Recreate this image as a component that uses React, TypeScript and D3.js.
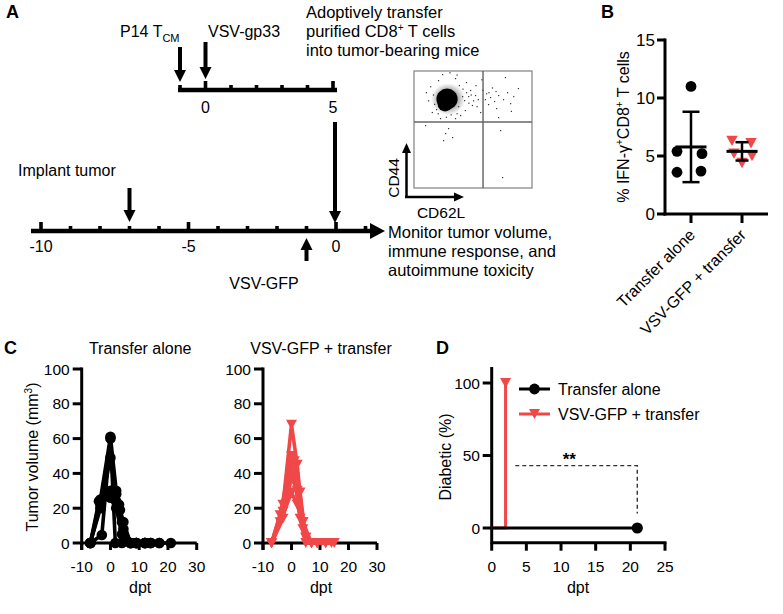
import React from "react";
import * as d3 from "d3";

const W = 783;
const H = 614;
const RED = "#F04848";
const FONT = "'Liberation Sans', Arial, Helvetica, sans-serif";

// ---------- Panel A data ----------
const topTimelineDays = [-1, 0, 1, 2, 3, 4, 5];
const topTimelineLabels = [0, 5];
const bottomTimelineDays = [-10, -9, -8, -7, -6, -5, -4, -3, -2, -1, 0, 1];
const bottomTimelineLabels = [-10, -5, 0];
const p14Day = -1;
const vsvGp33Day = 0;
const transferDayTop = 5;
const implantDay = -7;
const vsvGfpDay = -1;
const transferLines = ["Adoptively transfer", "purified CD8", "into tumor-bearing mice"];
const monitorLines = ["Monitor tumor volume,", "immune response, and", "autoimmune toxicity"];

// Flow plot (CD62L on x, CD44 on y, 0-100 display units)
const flowGateX = 58.5;
const flowGateY = 56.4;
const flowCore = { cd62l: 28, cd44: 76, spreadX: 9, spreadY: 9 };
const flowEvents: [number, number][] = [
  [23.7, 97.4], [34.7, 94], [44, 90.6], [47.5, 83.8], [51.7, 79.5], [54, 76],
  [61, 81], [64.4, 77.8], [67.8, 74.4], [71.2, 79.5], [75.4, 76], [78.8, 82],
  [81.4, 72.6], [69.5, 68.4], [62.7, 71.8], [84, 78.6], [77, 94.9], [88, 85.5],
  [49, 71], [43, 66.7], [39, 62.4], [34.7, 59.8], [22, 59.8], [15, 65],
  [11.9, 75], [13.6, 87], [20.3, 92.3], [28.8, 51.3], [26.3, 47], [32.2, 43.6],
  [24.6, 41], [72.9, 49.6], [74.6, 9.4], [71.2, 60.7], [9.3, 53.8], [56, 65],
  [40.7, 78.6], [42.4, 75.2], [45.8, 78.6], [37.3, 70], [18.6, 67.5], [10, 82],
  [58, 84], [66, 86], [52, 88], [36, 97], [30, 99], [82, 66], [57, 93],
  [44, 82], [46, 73], [48, 80], [50, 75], [41, 85], [38, 88], [16, 80], [17, 72],
  [20, 64], [27, 61], [31, 63], [36, 64], [53, 70], [60, 76], [63, 82], [69, 83],
];

// ---------- Panel B data ----------
const bCategories = ["Transfer alone", "VSV-GFP + transfer"];
const bTransferAlone = [11.0, 5.4, 5.2, 3.6, 3.7];
const bVsvTransfer = [6.3, 6.1, 5.2, 5.0, 4.4];
const bTransferAloneJitter = [0, -14, 11, -14, 10];
const bVsvTransferJitter = [-10, 9, -8, 10, 0];
const bTicksY = [0, 5, 10, 15];

// ---------- Panel C data ----------
const cTicksY = [0, 20, 40, 60, 80, 100];
const cTicksX = [-10, 0, 10, 20, 30];
const transferAloneMice: [number, number][][] = [
  [[-7, 0], [-3.5, 25], [0, 61], [2, 30], [3, 22], [4, 12], [7, 0], [9, 0], [12, 0], [14, 0], [17, 0], [21, 0]],
  [[-7, 0], [-3, 4.6], [0, 60], [1.7, 0], [4, 0], [7, 0], [9, 0], [12, 0], [14, 0]],
  [[-7, 0], [-3.5, 20], [0, 49], [2, 24], [3.3, 19], [4.5, 8], [7, 0], [9, 0], [12, 0]],
  [[-7, 0], [-3.5, 22], [0, 30], [2, 28], [4.5, 12], [7, 0], [9, 0], [12, 0], [14, 0], [17, 0]],
  [[-7, 0], [-4, 24], [0, 26], [2, 20], [4, 5], [7, 0], [9, 0], [12, 0]],
];
const vsvTransferMice: [number, number][][] = [
  [[-7, 0], [-3, 22], [0, 68], [2, 45], [4, 12], [7, 0], [9, 0], [12, 0], [14, 0]],
  [[-7, 0], [-4, 16], [0, 50], [1, 47], [3, 29], [5, 3], [7, 0], [9, 0], [12, 0]],
  [[-7, 0], [-3, 14], [0, 38], [2, 30], [4, 8], [7, 0], [9, 0]],
  [[-7, 0], [-4, 12], [0, 29], [2, 22], [4, 12], [5, 3], [7, 0], [9, 0], [12, 0], [15, 0]],
  [[-7, 0], [-3, 18], [0, 45], [1, 38], [3, 14], [5, 0], [7, 0], [9, 0]],
];

// ---------- Panel D data ----------
const dTicksY = [0, 50, 100];
const dTicksX = [0, 5, 10, 15, 20, 25];
const dTransferAlone: [number, number][] = [[0, 0], [21, 0]];
const dVsvTransfer: [number, number][] = [[0, 0], [2, 0], [2, 100]];
const dSigBracket: [number, number][] = [[3.4, 43], [21, 43], [21, 10]];
const dSigLabel = { day: 11.2, pct: 49, text: "**" };
const dLegend = ["Transfer alone", "VSV-GFP + transfer"];

// ---------- helpers ----------
function triDown(x: number, y: number, w: number) {
  const h = w * 0.9;
  return `M${x - w / 2},${y - h / 2}L${x + w / 2},${y - h / 2}L${x},${y + h / 2}Z`;
}

function VArrow({ x, y1, y2, w = 4, head = 12, hw = 12 }: any) {
  const dir = Math.sign(y2 - y1);
  const base = y2 - dir * head;
  return (
    <g>
      <line x1={x} x2={x} y1={y1} y2={base + dir * 1} stroke="#000" strokeWidth={w} />
      <polygon points={`${x - hw / 2},${base} ${x + hw / 2},${base} ${x},${y2}`} fill="#000" />
    </g>
  );
}

function PanelA() {
  const xTop = d3.scaleLinear().domain([-1, 5]).range([180, 333]);
  const xBot = d3.scaleLinear().domain([-10, 0]).range([41, 336]);
  const yTop = 90;
  const yBot = 231;
  const xf = d3.scaleLinear().domain([0, 100]).range([414, 532]);
  const yf = d3.scaleLinear().domain([0, 100]).range([188, 71]);
  const crx = xf(flowCore.spreadX) - xf(0);
  const cry = yf(0) - yf(flowCore.spreadY);
  return (
    <g>
      <text x={6} y={18} fontSize={18} fontWeight="bold" fontFamily={FONT}>A</text>
      {/* top timeline */}
      <line x1={xTop(-1) - 2} x2={xTop(5) + 4} y1={yTop} y2={yTop} stroke="#000" strokeWidth={4.5} />
      {topTimelineDays.map((d) => {
        const major = topTimelineLabels.includes(d);
        return <rect key={d} x={xTop(d) - 1.8} width={3.6} y={yTop - (major ? 9 : 5)} height={major ? 9 : 5} fill="#000" />;
      })}
      {topTimelineLabels.map((d) => (
        <text key={d} x={xTop(d)} y={113} fontSize={16} textAnchor="middle">{d}</text>
      ))}
      <VArrow x={xTop(p14Day)} y1={47} y2={82} />
      <VArrow x={xTop(vsvGp33Day)} y1={42} y2={79} />
      <text x={120} y={37} fontSize={16}>P14 T<tspan fontSize={11} dy={5}>CM</tspan></text>
      <text x={208} y={37} fontSize={16}>VSV-gp33</text>
      <text x={306} y={18} fontSize={16.5}>{transferLines[0]}</text>
      <text x={306} y={37} fontSize={16.5}>{transferLines[1]}<tspan fontSize={10} dy={-6}>+</tspan><tspan dy={6}> T cells</tspan></text>
      <text x={306} y={56} fontSize={16.5}>{transferLines[2]}</text>
      {/* transfer arrow */}
      <VArrow x={xTop(transferDayTop) + 2} y1={122} y2={223} />
      {/* bottom timeline */}
      <line x1={31} x2={372} y1={yBot} y2={yBot} stroke="#000" strokeWidth={4.5} />
      <polygon points={`370,${yBot - 8} 385,${yBot} 370,${yBot + 8}`} fill="#000" />
      {bottomTimelineDays.map((d) => {
        const major = bottomTimelineLabels.includes(d);
        return <rect key={d} x={xBot(d) - 1.8} width={3.6} y={yBot - (major ? 9 : 5)} height={major ? 9 : 5} fill="#000" />;
      })}
      {bottomTimelineLabels.map((d) => (
        <text key={d} x={xBot(d)} y={252} fontSize={16} textAnchor="middle">{d}</text>
      ))}
      <VArrow x={xBot(implantDay)} y1={188} y2={222} />
      <text x={18} y={176} fontSize={16}>Implant tumor</text>
      <VArrow x={xBot(vsvGfpDay)} y1={261} y2={238} />
      <text x={264} y={289} fontSize={16} textAnchor="middle">VSV-GFP</text>
      {monitorLines.map((t, i) => (
        <text key={i} x={388} y={238 + i * 19} fontSize={16.5}>{t}</text>
      ))}
      {/* flow plot */}
      <defs>
        <radialGradient id="halo">
          <stop offset="0%" stopColor="#000" stopOpacity={0.95} />
          <stop offset="60%" stopColor="#000" stopOpacity={0.55} />
          <stop offset="100%" stopColor="#000" stopOpacity={0} />
        </radialGradient>
      </defs>
      <ellipse cx={xf(flowCore.cd62l) + 1} cy={yf(flowCore.cd44)} rx={crx * 1.6} ry={cry * 1.5} fill="url(#halo)" opacity={0.55} />
      <ellipse cx={xf(flowCore.cd62l)} cy={yf(flowCore.cd44)} rx={crx} ry={cry} fill="#000" />
      <ellipse cx={xf(flowCore.cd62l) - 2} cy={yf(flowCore.cd44) + 5} rx={crx * 0.7} ry={cry * 0.7} fill="#000" />
      {flowEvents.map((p, i) => (
        <rect key={i} x={xf(p[0])} y={yf(p[1])} width={1.2} height={1.2} fill="#333" />
      ))}
      <rect x={xf(0)} y={yf(100)} width={xf(100) - xf(0)} height={yf(0) - yf(100)} fill="none" stroke="#8a8a8a" strokeWidth={1.3} />
      <line x1={xf(flowGateX)} x2={xf(flowGateX)} y1={yf(0)} y2={yf(100)} stroke="#555" strokeWidth={1.3} />
      <line x1={xf(0)} x2={xf(100)} y1={yf(flowGateY)} y2={yf(flowGateY)} stroke="#666" strokeWidth={1.3} />
      {/* axis arrows */}
      <line x1={406.5} x2={406.5} y1={198} y2={152} stroke="#000" strokeWidth={2.5} />
      <polygon points="402,153 406.5,143 411,153" fill="#000" />
      <line x1={405} x2={455} y1={197} y2={197} stroke="#000" strokeWidth={2.5} />
      <polygon points="454,192.5 464,197 454,201.5" fill="#000" />
      <text transform="translate(399,178) rotate(-90)" fontSize={15.5} textAnchor="middle">CD44</text>
      <text x={441} y={218} fontSize={15.5} textAnchor="middle">CD62L</text>
    </g>
  );
}

function PanelB() {
  const y = d3.scaleLinear().domain([0, 15]).range([214, 40]);
  const x = d3.scalePoint<string>().domain(bCategories).range([691, 742]);
  const axisX = 665;
  const series = [
    { vals: bTransferAlone, jit: bTransferAloneJitter, cat: bCategories[0], marker: "circle" },
    { vals: bVsvTransfer, jit: bVsvTransferJitter, cat: bCategories[1], marker: "tri" },
  ];
  return (
    <g>
      <text x={601} y={18} fontSize={18} fontWeight="bold">B</text>
      <line x1={axisX} x2={axisX} y1={y(15) - 1.5} y2={y(0) + 1.5} stroke="#000" strokeWidth={3} />
      <line x1={axisX - 1.5} x2={768} y1={y(0)} y2={y(0)} stroke="#000" strokeWidth={3} />
      {bTicksY.map((t) => (
        <g key={t}>
          <line x1={axisX - 8} x2={axisX} y1={y(t)} y2={y(t)} stroke="#000" strokeWidth={3} />
          <text x={655} y={y(t) + 6} fontSize={17} textAnchor="end">{t}</text>
        </g>
      ))}
      {bCategories.map((c) => (
        <g key={c}>
          <line x1={x(c)} x2={x(c)} y1={y(0)} y2={y(0) + 9} stroke="#000" strokeWidth={3} />
          <text transform={`translate(${(x(c) as number) + 5},${236}) rotate(-45)`} fontSize={16} textAnchor="end">{c}</text>
        </g>
      ))}
      <text transform={`translate(629,${127}) rotate(-90)`} fontSize={16} textAnchor="middle">
        % IFN-γ<tspan fontSize={10} dy={-6}>+</tspan><tspan dy={6}>CD8</tspan><tspan fontSize={10} dy={-6}>+</tspan><tspan dy={6}> T cells</tspan>
      </text>
      {series.map((s) => {
        const cx = x(s.cat) as number;
        return (
          <g key={s.cat}>
            {s.vals.map((v, i) =>
              s.marker === "circle" ? (
                <circle key={i} cx={cx + s.jit[i]} cy={y(v)} r={5.4} fill="#000" />
              ) : (
                <path key={i} d={triDown(cx + s.jit[i], y(v), 11.5)} fill={RED} />
              )
            )}
          </g>
        );
      })}
      {series.map((s) => {
        const cx = x(s.cat) as number;
        const m = d3.mean(s.vals) as number;
        const sd = d3.deviation(s.vals) as number;
        const cap = s.marker === "circle" ? 8.5 : 6.5;
        return (
          <g key={s.cat + "bar"} stroke="#000">
            <line x1={cx - 15.5} x2={cx + 15.5} y1={y(m)} y2={y(m)} strokeWidth={3} />
            <line x1={cx} x2={cx} y1={y(m + sd)} y2={y(m - sd)} strokeWidth={2.5} />
            <line x1={cx - cap} x2={cx + cap} y1={y(m + sd)} y2={y(m + sd)} strokeWidth={2.5} />
            <line x1={cx - cap} x2={cx + cap} y1={y(m - sd)} y2={y(m - sd)} strokeWidth={2.5} />
          </g>
        );
      })}
    </g>
  );
}

function PanelC({ x0, x1, title, mice, color, marker, showYLabel, letter }: any) {
  const x = d3.scaleLinear().domain([-10, 30]).range([x0, x1]);
  const y = d3.scaleLinear().domain([0, 100]).range([543, 369]);
  const line = d3.line<[number, number]>().x((d) => x(d[0])).y((d) => y(d[1]));
  const mid = (x0 + x1) / 2;
  return (
    <g>
      {letter && <text x={4} y={354} fontSize={18} fontWeight="bold">{letter}</text>}
      <text x={mid + 1} y={354} fontSize={16} textAnchor="middle">{title}</text>
      <line x1={x0} x2={x0} y1={y(100) - 1.5} y2={y(0) + 7} stroke="#000" strokeWidth={3} />
      <line x1={x0} x2={x1} y1={y(0)} y2={y(0)} stroke="#000" strokeWidth={3} />
      {cTicksY.map((t) => (
        <g key={t}>
          <line x1={x0 - 9} x2={x0} y1={y(t)} y2={y(t)} stroke="#000" strokeWidth={3} />
          <text x={x0 - 12} y={y(t) + 5.5} fontSize={15.5} textAnchor="end">{t}</text>
        </g>
      ))}
      {cTicksX.map((t) => (
        <g key={t}>
          <line x1={x(t)} x2={x(t)} y1={y(0)} y2={y(0) + 7} stroke="#000" strokeWidth={3} />
          <text x={x(t)} y={572} fontSize={15.5} textAnchor="middle">{t}</text>
        </g>
      ))}
      <text x={mid + 1} y={593} fontSize={16} textAnchor="middle">dpt</text>
      {showYLabel && (
        <text transform="translate(38,457) rotate(-90)" fontSize={16} textAnchor="middle">
          Tumor volume  (mm<tspan fontSize={10} dy={-6}>3</tspan><tspan dy={6}>)</tspan>
        </text>
      )}
      {mice.map((m: [number, number][], i: number) => (
        <g key={i}>
          <path d={line(m) as string} fill="none" stroke={color} strokeWidth={3.6} strokeLinejoin="round" />
          {m.map((p, j) =>
            marker === "circle" ? (
              <circle key={j} cx={x(p[0])} cy={y(p[1])} r={5.3} fill={color} />
            ) : (
              <path key={j} d={triDown(x(p[0]), y(p[1]), 11)} fill={color} />
            )
          )}
        </g>
      ))}
    </g>
  );
}

function PanelD() {
  const x = d3.scaleLinear().domain([0, 25]).range([491.7, 665]);
  const y = d3.scaleLinear().domain([0, 100]).range([528, 383]);
  const line = d3.line<[number, number]>().x((d) => x(d[0])).y((d) => y(d[1])).curve(d3.curveLinear);
  const axisY = 542.7;
  const last = dTransferAlone[dTransferAlone.length - 1];
  const vLast = dVsvTransfer[dVsvTransfer.length - 1];
  return (
    <g>
      <text x={436} y={354} fontSize={18} fontWeight="bold">D</text>
      <line x1={x(0)} x2={x(0)} y1={367} y2={axisY + 1.5} stroke="#000" strokeWidth={3} />
      <line x1={x(0)} x2={x(25) + 1.5} y1={axisY} y2={axisY} stroke="#000" strokeWidth={3} />
      {dTicksY.map((t) => (
        <g key={t}>
          <line x1={x(0) - 9} x2={x(0)} y1={y(t)} y2={y(t)} stroke="#000" strokeWidth={3} />
          <text x={480} y={y(t) + 5.5} fontSize={15.5} textAnchor="end">{t}</text>
        </g>
      ))}
      {dTicksX.map((t) => (
        <g key={t}>
          <line x1={x(t)} x2={x(t)} y1={axisY} y2={axisY + 8} stroke="#000" strokeWidth={3} />
          <text x={x(t)} y={572} fontSize={15.5} textAnchor="middle">{t}</text>
        </g>
      ))}
      <text x={578} y={593} fontSize={16} textAnchor="middle">dpt</text>
      <text transform="translate(451,457) rotate(-90)" fontSize={16} textAnchor="middle">Diabetic (%)</text>
      <path d={line(dVsvTransfer) as string} fill="none" stroke={RED} strokeWidth={3} />
      <path d={triDown(x(vLast[0]), y(vLast[1]), 11)} fill={RED} />
      <path d={line(dTransferAlone) as string} fill="none" stroke="#000" strokeWidth={3} />
      <circle cx={x(last[0])} cy={y(last[1])} r={5.6} fill="#000" />
      <path d={line(dSigBracket) as string} fill="none" stroke="#333" strokeWidth={1.4} strokeDasharray="4,3" />
      <text x={x(dSigLabel.day)} y={y(dSigLabel.pct) + 8} fontSize={17} fontWeight="bold" textAnchor="middle">{dSigLabel.text}</text>
      {/* legend */}
      <line x1={519} x2={550} y1={389} y2={389} stroke="#000" strokeWidth={3} />
      <circle cx={534.5} cy={389} r={5.4} fill="#000" />
      <text x={558} y={395} fontSize={16}>{dLegend[0]}</text>
      <line x1={519} x2={550} y1={414} y2={414} stroke={RED} strokeWidth={3} />
      <path d={triDown(534.5, 414, 11)} fill={RED} />
      <text x={558} y={420} fontSize={16}>{dLegend[1]}</text>
    </g>
  );
}

export default function App() {
  return (
    <svg width={W} height={H} style={{ position: "absolute", left: 0, top: 0, background: "#fff" }} fontFamily={FONT}>
      <rect width={W} height={H} fill="#fff" />
      <PanelA />
      <PanelB />
      <PanelC x0={81.7} x1={196.7} title="Transfer alone" mice={transferAloneMice} color="#000" marker="circle" showYLabel letter="C" />
      <PanelC x0={263} x1={377} title="VSV-GFP + transfer" mice={vsvTransferMice} color={RED} marker="tri" />
      <PanelD />
    </svg>
  );
}
